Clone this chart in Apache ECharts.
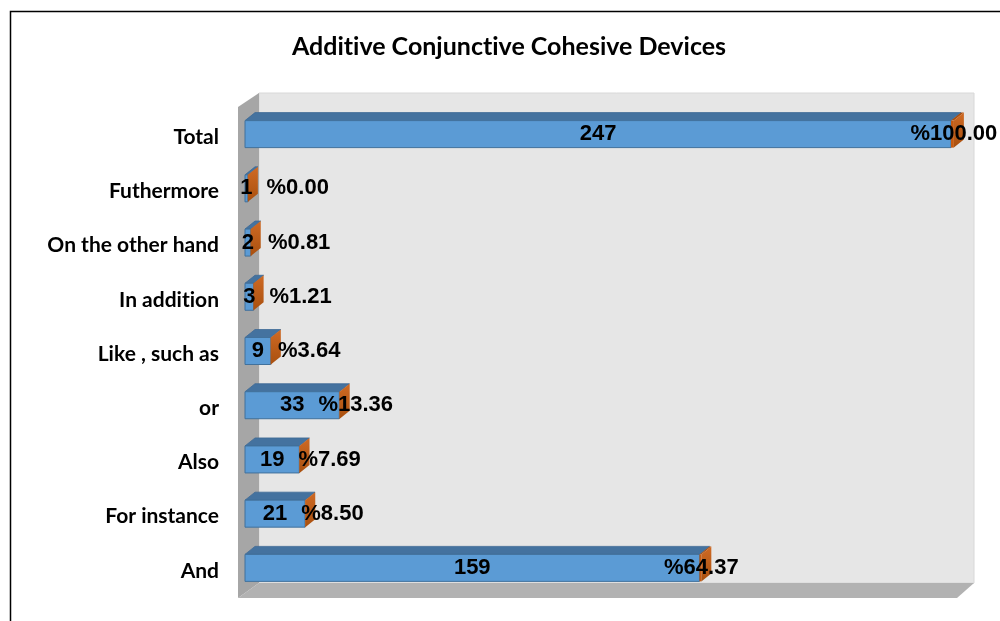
<!DOCTYPE html>
<html>
<head>
<meta charset="utf-8">
<script src="https://cdn.jsdelivr.net/npm/echarts@6/dist/echarts.min.js"></script>
<style>
  html, body { margin: 0; padding: 0; background: #ffffff; }
  #chart { width: 1000px; height: 621px; }
</style>
</head>
<body>
<div id="chart"></div>
<script>
// Rows from top to bottom
const categories = ['Total', 'Futhermore', 'On the other hand', 'In addition',
                    'Like , such as', 'or', 'Also', 'For instance', 'And'];
// Number of occurrences of each device
const counts = [247, 1, 2, 3, 9, 33, 19, 21, 159];
// Share of the total, in percent
const percents = [100.00, 0.00, 0.81, 1.21, 3.64, 13.36, 7.69, 8.50, 64.37];

// zero-width non-joiners keep Lato from forming the "ti" ligature
function noLigature(s) { return s.replace(/ti/g, 't\u200Ci'); }
const TITLE = noLigature('Additive Conjunctive Cohesive Devices');

const VALUE_FONT = 'bold 22px "Liberation Sans", Arial, sans-serif';
const LABEL_FONT = 'Lato';

const measureCtx = document.createElement('canvas').getContext('2d');
function textWidth(s) {
  measureCtx.font = VALUE_FONT;
  return measureCtx.measureText(s).width;
}

// 3D look of the bars: depth offset of the top/side faces and front face height
const DX = 10, DY = -8, FACE_H = 27, LIFT = 3, LABEL_GAP = 14;

function renderBar(params, api) {
  const cat = api.value(0);
  const cnt = api.value(1);
  const pct = api.value(2);
  // the percent series is stored as a fraction and stacked after the count
  const p0 = api.coord([0, cat]);
  const p1 = api.coord([cnt, cat]);
  const p2 = api.coord([cnt + pct / 100, cat]);
  const cy = p0[1] - LIFT;
  const top = cy - FACE_H / 2, bot = cy + FACE_H / 2;
  const x0 = p0[0], x1 = p1[0], x2 = p2[0];

  const cntText = String(cnt);
  const pctText = '%' + pct.toFixed(2);
  const cntCenter = (x0 + x1) / 2;
  const pctCenter = Math.max(x2, cntCenter + textWidth(cntText) / 2 + LABEL_GAP + textWidth(pctText) / 2);

  return {
    type: 'group',
    children: [
      { type: 'polygon',
        shape: { points: [[x0, top], [x1, top], [x1 + DX, top + DY], [x0 + DX, top + DY]] },
        style: { fill: '#44729f', stroke: '#3d6a96', lineWidth: 0.8 } },
      { type: 'rect',
        shape: { x: x0, y: top, width: Math.max(x1 - x0, 0.5), height: FACE_H },
        style: { fill: '#5b9bd5', stroke: '#41719c', lineWidth: 1 } },
      { type: 'polygon',
        shape: { points: [[x1, top], [x2, top], [x2 + DX, top + DY], [x1 + DX, top + DY]] },
        style: { fill: '#a84e10' } },
      { type: 'rect',
        shape: { x: x1, y: top, width: Math.max(x2 - x1, 0.5), height: FACE_H },
        style: { fill: '#c55a11' } },
      { type: 'polygon',
        shape: { points: [[x2, top], [x2 + DX, top + DY], [x2 + DX, bot + DY], [x2, bot]] },
        style: {
          fill: new echarts.graphic.LinearGradient(0, 0, 0, 1, [
            { offset: 0, color: '#cf6a24' },
            { offset: 1, color: '#a9500f' }
          ])
        } },
      { type: 'text', x: cntCenter, y: cy,
        style: { text: cntText, font: VALUE_FONT, fill: '#000000', align: 'center', verticalAlign: 'middle' } },
      { type: 'text', x: pctCenter, y: cy,
        style: { text: pctText, font: VALUE_FONT, fill: '#000000', align: 'center', verticalAlign: 'middle' } }
    ]
  };
}

const chart = echarts.init(document.getElementById('chart'), null, { renderer: 'canvas' });

const option = {
  animation: false,
  backgroundColor: '#ffffff',
  grid: { left: 245, right: 40.4, top: 110, bottom: 23, containLabel: false },
  xAxis: {
    type: 'value', min: 0, max: 250, show: false
  },
  yAxis: {
    type: 'category',
    data: categories,
    inverse: true,
    axisLine: { show: false },
    axisTick: { show: false },
    splitLine: { show: false },
    axisLabel: {
      margin: 26,
      color: '#000000',
      fontFamily: LABEL_FONT,
      fontWeight: 'bold',
      fontSize: 21,
      formatter: noLigature
    }
  },
  graphic: [
    // outer chart frame
    { type: 'rect', z: 0, shape: { x: 10.5, y: 11.5, width: 1000, height: 700 },
      style: { fill: 'none', stroke: '#000000', lineWidth: 1.5 } },
    // back wall
    { type: 'rect', z: 0, shape: { x: 259, y: 93, width: 715, height: 490 },
      style: { fill: '#e6e6e6', stroke: '#d8d8d8', lineWidth: 1 } },
    // side wall
    { type: 'polygon', z: 0, shape: { points: [[238, 107], [259, 93], [259, 583], [238, 598]] },
      style: { fill: '#a6a6a6' } },
    // floor
    { type: 'polygon', z: 0, shape: { points: [[238, 598], [259, 583], [974, 583], [957, 598]] },
      style: { fill: '#b2b2b2' } },
    // title
    { type: 'text', z: 5, x: 509, y: 47,
      style: { text: TITLE, font: 'bold 25px Lato',
               fill: '#000000', align: 'center', verticalAlign: 'middle' } }
  ],
  series: [{
    type: 'custom',
    z: 3,
    coordinateSystem: 'cartesian2d',
    encode: { x: 1, y: 0 },
    data: categories.map((c, i) => [i, counts[i], percents[i]]),
    renderItem: renderBar
  }]
};

chart.setOption(option);
</script>
</body>
</html>
